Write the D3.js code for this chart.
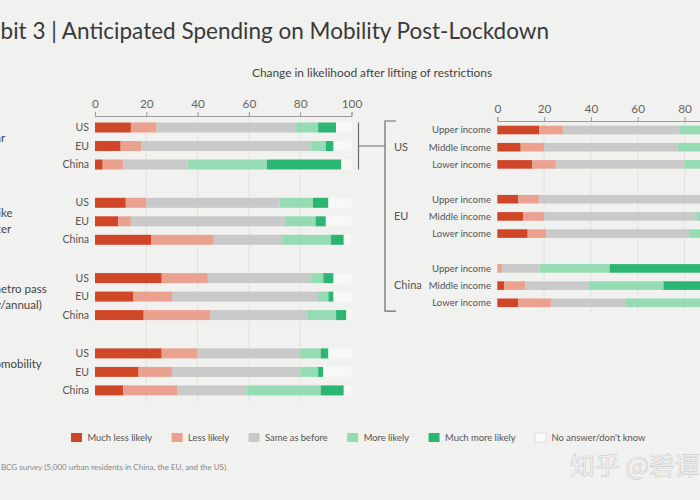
<!DOCTYPE html>
<html><head><meta charset="utf-8">
<script src="https://cdn.jsdelivr.net/npm/d3@7"></script>
<style>
html,body{margin:0;padding:0;background:#f1f1ef;}
svg{display:block;font-family:Lato,"Open Sans",sans-serif;}
</style></head><body>
<svg id="c" width="700" height="500"></svg>
<script>
// ---------- data ----------
const categories = ["Much less likely","Less likely","Same as before","More likely","Much more likely","No answer/don't know"];
const colors = ["#cf4628","#eba18f","#c9c9c9","#95dcb5","#2bb673","#f8f8f7"];
const tickValues = [0,20,40,60,80,100];

const leftGroups = [["Buy a car"],["Buy a bike","or e-scooter"],["Buy a metro pass","(monthly/annual)"],["Use micromobility"]];
// part of each label line that shows inside the frame (the rest is cut off at the left edge)
const leftGroupVisible = [["r"],["ke","er"],["etro pass","/annual)"],["mobility"]];
const regions = ["US","EU","China"];
// left rows in order: group1 US, EU, China, group2 ...
const leftMuchLess = [14,10,3, 12,9,22, 26,15,19, 26,17,11];
const leftLess     = [10,8,8,  8,5,24,  18,15,26, 14,13,21];
const leftSame     = [54,66,25, 52,60,27, 40,57,38, 40,50,27];
const leftMore     = [9,6,31,  13,12,19, 5,4,11,  8,7,29];
const leftMuchMore = [7,3,29,  6,4,5,    4,2,4,   3,2,9];

const rightRegions = ["US","EU","China"];
const incomes = ["Upper income","Middle income","Lower income"];
const rightMuchLess = [18,10,15, 9,11,13, 0,3,9];
const rightLess     = [10,10,10, 9,9,8,   2,9,14];
const rightSame     = [50,57,55, 72,65,61, 16,27,32];
const rightMore     = [10,12,10, 5,7,8,   30,32,33];
const rightMuchMore = [8,6,6,    2,3,3,   49,26,9];

const titleText = "Exhibit 3 | Anticipated Spending on Mobility Post-Lockdown";
const subtitleText = "Change in likelihood after lifting of restrictions";
const sourceText = "Source: BCG survey (5,000 urban residents in China, the EU, and the US).";
const watermarkText = "知乎 @碧谭";

// ---------- setup ----------
const svg = d3.select("#c");
svg.append("rect").attr("width",700).attr("height",500).attr("fill","#f1f1ef");

function measure(text, size){
  const t = svg.append("text").attr("font-size",size).text(text);
  const w = t.node().getComputedTextLength(); t.remove(); return w;
}

// title (left part cut off by the frame)
const visTitle = titleText.slice(4);
const tfs = 20*549/measure(visTitle,20);
svg.append("text").attr("x",549).attr("y",39).attr("text-anchor","end")
  .attr("font-size",tfs).attr("fill","#3a3a3a").text(titleText);

svg.append("text").attr("x",372).attr("y",77).attr("text-anchor","middle")
  .attr("font-size",11.9).attr("fill","#444").text(subtitleText);

function buildRows(a,b,c,d,e){
  return a.map((v,i)=>{
    const o = {}; const vals=[a[i],b[i],c[i],d[i],e[i]];
    categories.forEach((k,j)=>{ o[k] = j<5 ? vals[j] : Math.max(0,100-d3.sum(vals)); });
    return o;
  });
}
const stack = d3.stack().keys(categories);

// ---------- left chart ----------
const xL = d3.scaleLinear().domain([0,100]).range([95,351.5]);
const groupIdx = leftGroups.map((_,i)=>i);
const yLo = d3.scaleBand().domain(groupIdx).range([118.25,419.45]).paddingInner(0).paddingOuter(0);
const yLi = d3.scaleBand().domain(regions).range([0,55.5]).paddingInner(0.46).paddingOuter(0.23);

const gridL = svg.append("g");
gridL.selectAll("line").data(tickValues.slice(1,5)).join("line")
  .attr("x1",d=>xL(d)).attr("x2",d=>xL(d)).attr("y1",117).attr("y2",402)
  .attr("stroke","#e2e2e0").attr("stroke-width",1);

function styleAxis(g){
  g.select(".domain").attr("stroke","#9a9a9a");
  g.selectAll(".tick line").attr("stroke","#9a9a9a");
  g.selectAll(".tick text").attr("fill","#666").attr("font-size",11.8).attr("font-family","Lato,'Open Sans',sans-serif");
}
svg.append("g").attr("transform","translate(0,116)")
  .call(d3.axisTop(xL).tickValues(tickValues).tickSize(4).tickSizeOuter(4).tickPadding(4))
  .call(styleAxis);

const leftRows = buildRows(leftMuchLess,leftLess,leftSame,leftMore,leftMuchMore);
const leftRowY = (i)=> yLo(Math.floor(i/3)) + yLi(regions[i%3]);
const leftSeries = stack(leftRows);
svg.append("g").selectAll("g").data(leftSeries).join("g")
  .attr("fill",(d,i)=>colors[i])
  .selectAll("rect").data(d=>d).join("rect")
  .attr("x",d=>xL(d[0])).attr("width",d=>xL(d[1])-xL(d[0]))
  .attr("y",(d,i)=>leftRowY(i)).attr("height",yLi.bandwidth());

svg.append("g").selectAll("text").data(leftRows).join("text")
  .attr("x",89).attr("y",(d,i)=>leftRowY(i)+yLi.bandwidth()/2)
  .attr("dy","0.35em").attr("text-anchor","end")
  .attr("font-size",10.5).attr("fill","#555").text((d,i)=>regions[i%3]);

// group labels (cut at left edge)
const gl = svg.append("g");
const glSize = 11.5;
leftGroups.forEach((lines,gi)=>{
  const cy = yLo(gi) + 55.5/2;
  lines.forEach((ln,li)=>{
    const vis = leftGroupVisible[gi][li];
    const prefix = ln.slice(0, ln.length - vis.length);
    const x0 = 1 - measure(prefix, glSize);
    gl.append("text").attr("x",x0).attr("y",cy-8+li*16).attr("dy","0.35em")
      .attr("font-size",glSize).attr("fill","#444").text(ln);
  });
});

// ---------- right chart ----------
const xR = d3.scaleLinear().domain([0,100]).range([497.3,731.3]);
const yRo = d3.scaleBand().domain(rightRegions).range([121.4,329]).paddingInner(0).paddingOuter(0);
const yRi = d3.scaleBand().domain(incomes).range([0,51.6]).paddingInner(0.5).paddingOuter(0.25);

svg.append("g").selectAll("line").data(tickValues.slice(1,5)).join("line")
  .attr("x1",d=>xR(d)).attr("x2",d=>xR(d)).attr("y1",122).attr("y2",312)
  .attr("stroke","#e2e2e0").attr("stroke-width",1);

svg.append("g").attr("transform","translate(0,121)")
  .call(d3.axisTop(xR).tickValues(tickValues).tickSize(4).tickSizeOuter(4).tickPadding(4))
  .call(styleAxis);

const rightRows = buildRows(rightMuchLess,rightLess,rightSame,rightMore,rightMuchMore);
const rightRowY = (i)=> yRo(rightRegions[Math.floor(i/3)]) + yRi(incomes[i%3]);
svg.append("g").selectAll("g").data(stack(rightRows)).join("g")
  .attr("fill",(d,i)=>colors[i])
  .selectAll("rect").data(d=>d).join("rect")
  .attr("x",d=>xR(d[0])).attr("width",d=>xR(d[1])-xR(d[0]))
  .attr("y",(d,i)=>rightRowY(i)).attr("height",yRi.bandwidth());

svg.append("g").selectAll("text").data(rightRows).join("text")
  .attr("x",491).attr("y",(d,i)=>rightRowY(i)+yRi.bandwidth()/2)
  .attr("dy","0.35em").attr("text-anchor","end")
  .attr("font-size",9.6).attr("fill","#555").text((d,i)=>incomes[i%3]);

svg.append("g").selectAll("text").data(rightRegions).join("text")
  .attr("x",394).attr("y",d=>yRo(d)+51.6/2).attr("dy","0.35em")
  .attr("font-size",11).attr("fill","#555").text(d=>d);

// brackets
const br = svg.append("g").attr("fill","none").attr("stroke","#6a6a6a").attr("stroke-width",1.2);
const lTop = yLo(0)+yLi("US"), lBot = yLo(0)+yLi("China")+yLi.bandwidth();
const lMid = yLo(0)+55.5/2;
br.append("path").attr("d",`M358.5,${lTop}V${lBot}M358.5,${lMid}H385`);
const rTop = 121, rBot = yRo("China")+yRi("Lower income")+yRi.bandwidth()+4;
br.append("path").attr("d",`M396,${rTop}H385V${rBot}H396`);

// ---------- legend ----------
const lg = svg.append("g");
let lx = 71;
categories.forEach((c,i)=>{
  lg.append("rect").attr("x",lx).attr("y",433).attr("width",11).attr("height",9)
    .attr("fill",i===5?"#fafafa":colors[i]).attr("stroke",i===5?"#d8d8d8":"none").attr("stroke-width",0.8);
  const t = lg.append("text").attr("x",lx+16.5).attr("y",437.5).attr("dy","0.35em")
    .attr("font-size",9.4).attr("fill","#555").text(c);
  lx += 16.5 + t.node().getComputedTextLength() + 19.5;
});

// source (cut at left edge)
svg.append("text").attr("x",228).attr("y",467).attr("dy","0.35em").attr("text-anchor","end")
  .attr("font-size",8).attr("fill","#888").text(sourceText);

// watermark
svg.append("text").attr("x",570).attr("y",475).attr("font-size",25)
  .attr("fill","#f7f7f7").attr("stroke","#cfcfcf").attr("stroke-width",0.7)
  .attr("font-family","'Noto Sans CJK SC',sans-serif").text(watermarkText);
</script>
</body></html>
